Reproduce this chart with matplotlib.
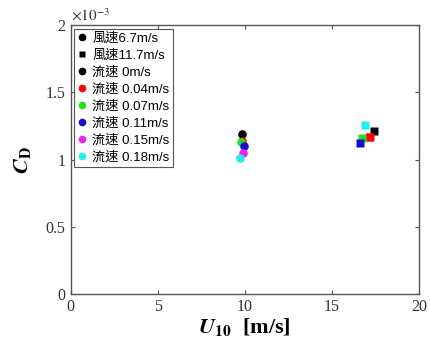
import matplotlib
matplotlib.use('Agg')
import matplotlib.pyplot as plt
from matplotlib.lines import Line2D
from matplotlib.ticker import FuncFormatter

plt.rcParams['font.family'] = ['Liberation Serif', 'Noto Sans CJK TC']
plt.rcParams['mathtext.fontset'] = 'stix'

# Data
current_labels = ['流速 0m/s', '流速 0.04m/s', '流速 0.07m/s', '流速 0.11m/s',
                  '流速 0.15m/s', '流速 0.18m/s']
colors = ['black', 'red', '#22dd22', '#1010cc', '#ee22ee', '#22eeee']

# wind 6.7 m/s cases (circles)
u10_low = [9.82, 9.84, 9.77, 9.97, 9.88, 9.73]
cd_low = [1.187e-3, 1.135e-3, 1.128e-3, 1.100e-3, 1.050e-3, 1.013e-3]

# wind 11.7 m/s cases (squares)
u10_high = [17.43, 17.20, 16.75, 16.62, 17.15, 16.90]
cd_high = [1.214e-3, 1.165e-3, 1.162e-3, 1.125e-3, 1.170e-3, 1.257e-3]

fig = plt.figure(figsize=(4.3, 3.48), dpi=100)
ax = fig.add_axes([0.164, 0.155, 0.81, 0.773])

for i in range(len(colors)):
    ax.plot(u10_low[i], cd_low[i], 'o', color=colors[i], ms=6.2, mec='none')
for i in [0, 4, 1, 2, 3, 5]:
    ax.plot(u10_high[i], cd_high[i], 's', color=colors[i], ms=5.5, mec='none')

ax.set_xlim(0, 20)
ax.set_ylim(0, 2e-3)
ax.set_xticks([0, 5, 10, 15, 20])
ax.set_yticks([0, 0.5e-3, 1e-3, 1.5e-3, 2e-3])
ax.yaxis.set_major_formatter(FuncFormatter(lambda v, p: '%g' % round(v * 1e3, 3)))
ax.text(0.0, 1.005, r'$\times10^{-3}$', transform=ax.transAxes, fontsize=11,
        color='#333333', ha='left', va='bottom')

ax.tick_params(direction='in', top=True, right=True, length=3, width=0.8,
               color='#555555', labelsize=11.5, labelcolor='#333333')
for sp in ax.spines.values():
    sp.set_color('#555555')
    sp.set_linewidth(1.0)

ax.set_xlabel(r'$\mathbfit{U}_{\mathbf{10}}$  [m/s]', fontsize=16,
              fontweight='bold', labelpad=1)
ax.set_ylabel(r'$\mathbfit{C}_{\mathbf{D}}$', fontsize=16, labelpad=9)

# Legend
handles = [Line2D([], [], ls='none', marker='o', color='black', ms=5.5, mec='none'),
           Line2D([], [], ls='none', marker='s', color='black', ms=5, mec='none')]
labels = ['風速6.7m/s', '風速11.7m/s']
for c, lab in zip(colors, current_labels):
    handles.append(Line2D([], [], ls='none', marker='o', color=c, ms=5.5, mec='none'))
    labels.append(lab)
leg = ax.legend(handles, labels, loc='upper left', bbox_to_anchor=(0.0, 1.0),
                prop={'family': ['Liberation Sans', 'Noto Sans CJK TC'], 'size': 9.5},
                handlelength=0.6, handletextpad=0.5, labelspacing=0.36,
                borderpad=0.25, borderaxespad=0.3, fancybox=False,
                framealpha=1, edgecolor='#555555')
leg.get_frame().set_linewidth(0.8)

fig.savefig('out.png', dpi=100)
